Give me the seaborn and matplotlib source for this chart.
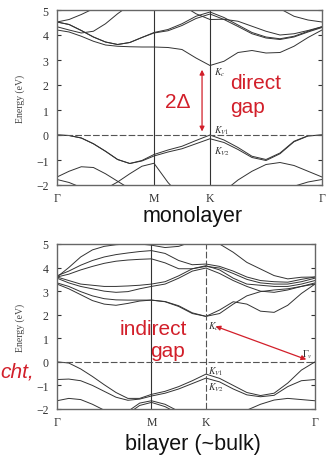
import numpy as np
import pandas as pd
import seaborn as sns
import matplotlib.pyplot as plt

# path Gamma - M - K - Gamma, lengths in 2pi/a
k_ticks = [0.0, 0.866, 1.366, 2.366]
k_labels = ['Γ', 'M', 'K', 'Γ']
k_pts = [0.0, 0.108, 0.217, 0.325, 0.433, 0.541, 0.650, 0.758, 0.866,
         0.991, 1.116, 1.241, 1.366,
         1.491, 1.616, 1.741, 1.866, 1.991, 2.116, 2.241, 2.366]

# monolayer bands (eV) at k_pts
mono_c1 = [4.20, 4.12, 3.95, 3.75, 3.60, 3.55, 3.53, 3.52, 3.52, 3.50, 3.42, 3.08, 2.78,
           2.95, 3.30, 3.38, 3.28, 3.30, 3.55, 3.90, 4.20]
mono_c2 = [4.52, 4.42, 4.18, 3.92, 3.72, 3.62, 3.70, 3.90, 4.10, 4.22, 4.45, 4.75, 4.92,
           4.70, 4.40, 4.10, 3.92, 3.85, 3.95, 4.15, 4.33]
mono_c2b = [4.52, 4.42, 4.18, 3.92, 3.72, 3.62, 3.70, 3.90, 4.08, 4.17, 4.38, 4.66, 4.84,
            4.62, 4.34, 4.05, 3.88, 3.82, 3.92, 4.12, 4.30]
mono_c3 = [4.52, 4.62, 4.82, 5.05, 5.30, 5.50, 5.60, 5.60, 5.60, 5.50, 5.20, 4.85, 4.62,
           4.63, 4.55, 4.35, 4.15, 4.00, 4.05, 4.18, 4.33]
mono_c4 = [4.33, 4.20, 4.08, 4.15, 4.45, 4.85, 5.20, 5.40, 5.50, 5.50, 5.50, 5.50, 5.50,
           5.50, 5.50, 5.50, 5.40, 5.05, 4.75, 4.60, 4.52]
mono_v1 = [0.00, -0.02, -0.12, -0.35, -0.65, -0.98, -1.14, -1.02, -0.78, -0.60, -0.45, -0.22, 0.00,
           -0.20, -0.50, -0.85, -0.98, -0.72, -0.25, -0.03, 0.00]
mono_v2 = [0.00, -0.02, -0.12, -0.35, -0.65, -0.98, -1.14, -1.04, -0.84, -0.68, -0.55, -0.35, -0.15,
           -0.30, -0.58, -0.90, -1.02, -0.75, -0.27, -0.04, 0.00]
mono_v3 = [-1.68, -1.45, -1.27, -1.30, -1.55, -1.85, -2.15, -2.40, -2.50, -2.50, -2.50, -2.60, -2.60,
           -2.25, -1.80, -1.45, -1.18, -1.10, -1.22, -1.45, -1.68]
mono_v4 = [-2.60, -2.50, -2.40, -2.30, -2.15, -1.88, -1.55, -1.25, -1.13, -1.90, -2.50, -2.60, -2.60,
           -2.60, -2.60, -2.60, -2.60, -2.60, -2.60, -2.60, -2.60]
mono_v5 = [-1.78, -1.90, -2.10, -2.40, -2.60, -2.60, -2.60, -2.60, -2.60, -2.60, -2.60, -2.60, -2.60,
           -2.60, -2.60, -2.60, -2.60, -2.60, -2.05, -1.88, -1.78]

# bilayer bands (eV)
bi_c1 = [3.30, 3.10, 2.85, 2.60, 2.45, 2.40, 2.48, 2.58, 2.62, 2.55, 2.35, 2.05, 1.93,
         2.20, 2.55, 2.45, 2.15, 2.10, 2.40, 2.90, 3.30]
bi_c2 = [3.35, 3.20, 2.98, 2.80, 2.68, 2.63, 2.62, 2.62, 2.62, 2.56, 2.38, 2.08, 1.93,
         2.05, 2.45, 2.80, 2.98, 3.05, 3.10, 3.20, 3.30]
bi_c3 = [3.55, 3.35, 3.20, 3.10, 3.00, 2.95, 2.98, 3.10, 3.20, 3.30, 3.55, 3.85, 3.98,
         3.75, 3.45, 3.20, 3.00, 2.95, 3.05, 3.20, 3.35]
bi_c4 = [3.60, 3.45, 3.30, 3.25, 3.20, 3.20, 3.22, 3.25, 3.30, 3.40, 3.65, 3.95, 4.08,
         3.90, 3.55, 3.30, 3.25, 3.20, 3.20, 3.30, 3.45]
bi_c5 = [3.60, 3.72, 3.90, 4.05, 4.18, 4.27, 4.32, 4.35, 4.37, 4.20, 3.95, 3.95, 4.05,
         3.98, 3.75, 3.50, 3.35, 3.30, 3.30, 3.40, 3.55]
bi_c6 = [3.65, 3.85, 4.10, 4.30, 4.45, 4.55, 4.62, 4.68, 4.72, 4.60, 4.30, 4.12, 4.15,
         4.05, 3.85, 3.60, 3.45, 3.40, 3.38, 3.50, 3.60]
bi_c7 = [3.60, 4.00, 4.45, 4.75, 4.90, 4.97, 5.00, 5.00, 4.95, 4.85, 4.90, 5.10, 5.30,
         5.00, 4.65, 4.22, 3.94, 3.66, 3.52, 3.59, 3.60]
bi_v1 = [0.00, -0.05, -0.30, -0.62, -0.97, -1.30, -1.55, -1.55, -1.38, -1.25, -1.05, -0.80, -0.52,
         -0.70, -1.00, -1.30, -1.43, -1.33, -0.90, -0.35, 0.00]
bi_v2 = [-0.75, -0.73, -0.80, -1.00, -1.25, -1.50, -1.63, -1.58, -1.45, -1.33, -1.15, -0.92, -0.69,
         -0.85, -1.15, -1.40, -1.48, -1.42, -1.05, -0.80, -0.75]
bi_v3 = [-1.65, -1.55, -1.60, -1.80, -2.05, -2.30, -2.40, -2.40, -2.40, -2.40, -2.40, -2.40, -2.40,
         -2.40, -2.30, -2.05, -1.80, -1.62, -1.55, -1.60, -1.65]
bi_v4 = [-2.40, -2.40, -2.40, -2.40, -2.40, -2.30, -2.10, -1.75, -1.65, -1.80, -2.10, -2.40, -2.40,
         -2.40, -2.40, -2.40, -2.40, -2.40, -2.40, -2.40, -2.40]
bi_v5 = [-2.40, -2.40, -2.40, -2.40, -2.40, -2.40, -2.20, -1.85, -1.72, -1.90, -2.20, -2.40, -2.40,
         -2.40, -2.40, -2.40, -2.40, -2.40, -2.40, -2.40, -2.40]

RED = '#d21f2a'
LINE = '#333333'

sns.set_style('white')
plt.rcParams['font.family'] = ['Liberation Serif', 'DejaVu Serif']
plt.rcParams['mathtext.fontset'] = 'stix'


def band_frame(bands):
    rows = []
    for name, e in bands.items():
        rows += [(name, k, v) for k, v in zip(k_pts, e)]
    return pd.DataFrame(rows, columns=['band', 'k', 'energy'])


def draw_panel(ax, df, k_dashed=False):
    sns.lineplot(data=df, x='k', y='energy', units='band', estimator=None,
                 sort=False, color=LINE, lw=0.7, ax=ax, legend=False)
    ax.set_xlim(0, 2.366)
    ax.set_ylim(-2, 5)
    ax.axvline(k_ticks[1], color='#333333', lw=0.8)
    if k_dashed:
        ax.axvline(k_ticks[2], color='#555555', lw=0.8, ls=(0, (6, 2)))
    else:
        ax.axvline(k_ticks[2], color='#333333', lw=0.8)
    ax.axhline(0, color='#555555', lw=0.8, ls=(0, (6, 2)))
    ax.set_xticks(k_ticks)
    ax.set_xticklabels(k_labels)
    ax.set_yticks(range(-2, 6))
    ax.tick_params(axis='y', direction='in', length=3, left=True, right=True,
                   labelsize=8.5, colors='#333333', pad=6)
    ax.tick_params(axis='x', length=0, labelsize=8.5, colors='#333333', pad=5)
    ax.set_xlabel('')
    ax.set_ylabel('Energy (eV)', fontsize=7, color='#444444', labelpad=8)
    for s in ax.spines.values():
        s.set_color('#666666')
        s.set_linewidth(1.0)


fig = plt.figure(figsize=(3.3, 4.56), dpi=100)
W, H = 330, 456
ax1 = fig.add_axes([57 / W, 1 - 186 / H, 265 / W, 175 / H])
ax2 = fig.add_axes([57 / W, 1 - 410 / H, 258 / W, 165 / H])

mono = band_frame({'c1': mono_c1, 'c2': mono_c2, 'c2b': mono_c2b, 'c3': mono_c3,
                   'c4': mono_c4, 'v1': mono_v1, 'v2': mono_v2, 'v3': mono_v3,
                   'v4': mono_v4, 'v5': mono_v5})
bi = band_frame({'c1': bi_c1, 'c2': bi_c2, 'c3': bi_c3, 'c4': bi_c4, 'c5': bi_c5,
                 'c6': bi_c6, 'c7': bi_c7, 'v1': bi_v1, 'v2': bi_v2, 'v3': bi_v3,
                 'v4': bi_v4, 'v5': bi_v5})

draw_panel(ax1, mono)
draw_panel(ax2, bi, k_dashed=True)

# monolayer annotations
ax1.annotate('', xy=(1.295, 0.03), xytext=(1.295, 2.72),
             arrowprops=dict(arrowstyle='<|-|>', color=RED, lw=0.9, mutation_scale=7))
ax1.text(1.40, 2.52, r'$K_c$', fontsize=7, va='center', color='#333333')
ax1.text(1.40, 0.20, r'$K_{V1}$', fontsize=7, va='center', color='#333333')
ax1.text(1.40, -0.64, r'$K_{V2}$', fontsize=7, va='center', color='#333333')

# bilayer annotations
ax2.annotate('', xy=(2.31, 0.06), xytext=(1.43, 1.55),
             arrowprops=dict(arrowstyle='<|-|>', color=RED, lw=0.9, mutation_scale=7))
ax2.text(1.385, 1.52, r'$K_c$', fontsize=7, va='center', color='#333333')
ax2.text(2.25, 0.33, r'$\Gamma_v$', fontsize=7, va='center', color='#333333')
ax2.text(1.385, -0.39, r'$K_{V1}$', fontsize=7, va='center', color='#333333')
ax2.text(1.385, -1.07, r'$K_{V2}$', fontsize=7, va='center', color='#333333')

sans = ['Liberation Sans', 'DejaVu Sans']
fig.text(230 / W, 1 - 89 / H, 'direct', color=RED, fontsize=15, family=sans)
fig.text(230 / W, 1 - 113 / H, 'gap', color=RED, fontsize=15, family=sans)
fig.text(178 / W, 1 - 103 / H, '2Δ', color=RED, fontsize=15, family=sans,
         ha='center', va='center')
fig.text(120 / W, 1 - 335 / H, 'indirect', color=RED, fontsize=15, family=sans)
fig.text(150 / W, 1 - 357 / H, 'gap', color=RED, fontsize=15, family=sans)
fig.text(0, 1 - 378 / H, 'cht,', color=RED, fontsize=15, family=sans, style='italic')

fig.text(193 / W, 1 - 217 / H, 'monolayer', fontsize=15.5, family=sans,
         ha='center', va='center', color='#111111')
fig.text(193 / W, 1 - 445 / H, 'bilayer (~bulk)', fontsize=15.5, family=sans,
         ha='center', va='center', color='#111111')

fig.savefig('out.png', dpi=100)
